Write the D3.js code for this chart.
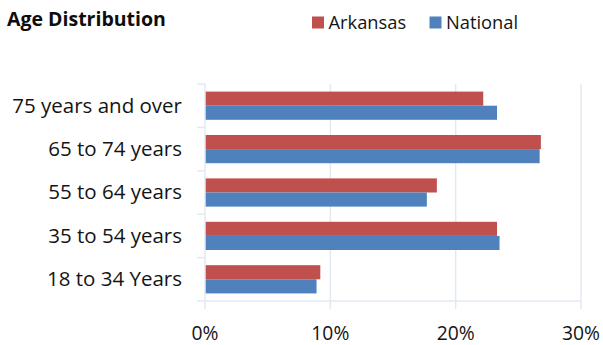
<!DOCTYPE html>
<html>
<head>
<meta charset="utf-8">
<script src="https://cdn.jsdelivr.net/npm/d3@7"></script>
<style>
  html, body { margin: 0; padding: 0; background: #fff; }
  svg { display: block; font-family: "Open Sans", Lato, sans-serif; }
</style>
</head>
<body>
<svg id="chart" width="603" height="345"></svg>
<script>
// Age groups, top to bottom
const categories = ["75 years and over", "65 to 74 years", "55 to 64 years", "35 to 54 years", "18 to 34 Years"];
const seriesNames = ["Arkansas", "National"];
// Share of population in each age group (%)
const arkansas = [22.2, 26.8, 18.5, 23.3, 9.2];
const national = [23.3, 26.7, 17.7, 23.5, 8.9];
const xTicks = [0, 10, 20, 30];
const colors = ["#C0504D", "#4F81BD"];

const svg = d3.select("#chart");
const margin = { left: 205, right: 22, top: 84, bottom: 44 };
const W = 603, H = 345;
const x0 = margin.left, x1 = W - margin.right;
const y0 = margin.top, y1 = H - margin.bottom;

const x = d3.scaleLinear().domain([0, 30]).range([x0, x1]);
const y = d3.scaleBand().domain(categories).range([y0, y1]).paddingInner(0.35).paddingOuter(0.175);
const ySub = d3.scaleBand().domain(seriesNames).range([0, y.bandwidth()]);
const yOuter = d3.scaleBand().domain(categories).range([y0, y1]);

const gridColor = "#e3e9f2";
const textColor = "#141414";

// vertical gridlines
svg.append("g").selectAll("line").data(xTicks.slice(1)).join("line")
  .attr("x1", d => x(d)).attr("x2", d => x(d))
  .attr("y1", y0).attr("y2", y1)
  .attr("stroke", gridColor).attr("stroke-width", 1.5);

// bars
const rows = categories.map((c, i) => ({ cat: c, values: [arkansas[i], national[i]] }));
const grp = svg.append("g").selectAll("g").data(rows).join("g")
  .attr("transform", d => `translate(0,${y(d.cat)})`);
grp.selectAll("rect").data(d => d.values.map((v, j) => ({ v, s: seriesNames[j], j }))).join("rect")
  .attr("x", x(0))
  .attr("y", d => ySub(d.s))
  .attr("width", d => x(d.v) - x(0))
  .attr("height", ySub.bandwidth())
  .attr("fill", d => colors[d.j]);

// left axis line with category divider ticks
svg.append("line").attr("x1", x0).attr("x2", x0).attr("y1", y0).attr("y2", y1)
  .attr("stroke", gridColor).attr("stroke-width", 1.5);
const dividers = categories.map(c => yOuter(c)).concat([y1]);
svg.append("g").selectAll("line").data(dividers).join("line")
  .attr("x1", x0 - 8).attr("x2", x0)
  .attr("y1", d => d).attr("y2", d => d)
  .attr("stroke", gridColor).attr("stroke-width", 1.5);

// bottom axis line with ticks
svg.append("line").attr("x1", x0).attr("x2", x1).attr("y1", y1).attr("y2", y1)
  .attr("stroke", gridColor).attr("stroke-width", 1.5);
svg.append("g").selectAll("line").data(xTicks).join("line")
  .attr("x1", d => x(d)).attr("x2", d => x(d))
  .attr("y1", y1).attr("y2", y1 + 8)
  .attr("stroke", gridColor).attr("stroke-width", 1.5);

// x tick labels
svg.append("g").selectAll("text").data(xTicks).join("text")
  .attr("x", d => x(d)).attr("y", 340)
  .attr("text-anchor", "middle")
  .attr("font-size", 19.3).attr("fill", textColor)
  .text(d => d + "%");

// category labels
svg.append("g").selectAll("text").data(categories).join("text")
  .attr("x", 182).attr("y", d => yOuter(d) + yOuter.bandwidth() / 2 + 6.8)
  .attr("text-anchor", "end")
  .attr("font-size", 20.5).attr("fill", textColor)
  .text(d => d);

// title
svg.append("text").attr("x", 7).attr("y", 26)
  .attr("font-size", 19.5).attr("font-weight", "bold").attr("fill", "#0d0d0d")
  .text("Age Distribution");

// legend
const legendX = [312, 429.5];
const lg = svg.append("g").selectAll("g").data(seriesNames).join("g")
  .attr("transform", (d, i) => `translate(${legendX[i]},0)`);
lg.append("rect").attr("x", 0).attr("y", 16.5).attr("width", 12).attr("height", 12)
  .attr("fill", (d, i) => colors[i]);
lg.append("text").attr("x", 16.5).attr("y", 28.5)
  .attr("font-size", 18.3).attr("fill", textColor)
  .text(d => d);
</script>
</body>
</html>
